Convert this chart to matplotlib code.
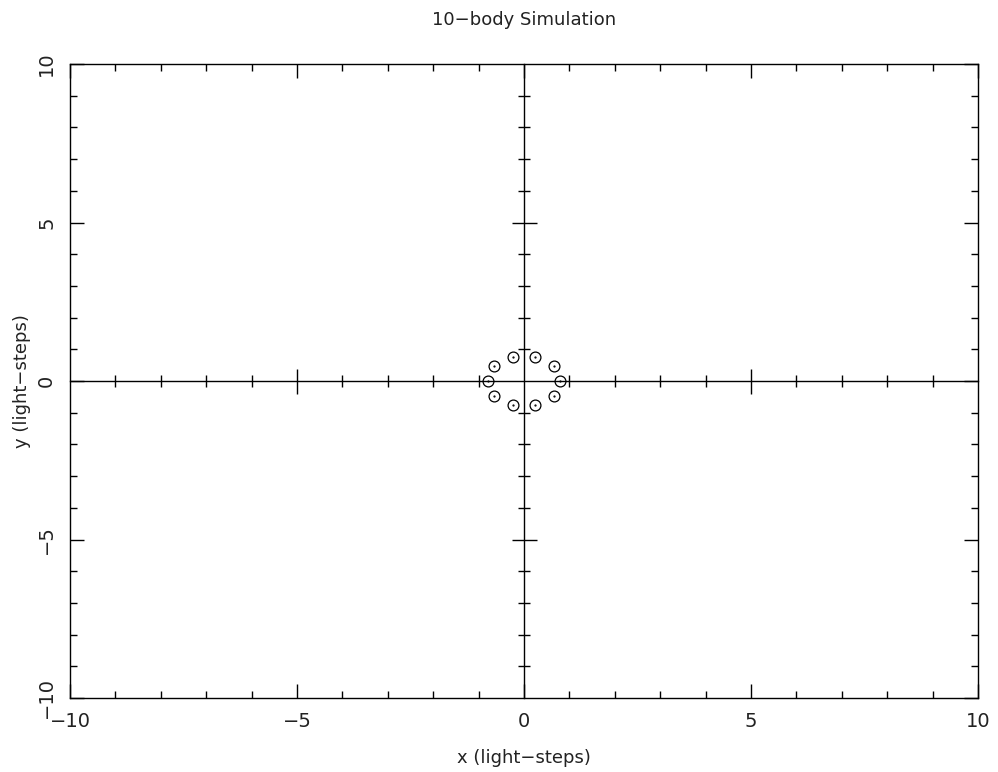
import matplotlib
matplotlib.use("Agg")
import matplotlib.pyplot as plt
from matplotlib.ticker import MultipleLocator

# Data: body positions (light-steps)
x_pos = [0.80, 0.65, 0.25, -0.25, -0.65, -0.80, -0.65, -0.25, 0.25, 0.65]
y_pos = [0.00, 0.47, 0.76, 0.76, 0.47, 0.00, -0.47, -0.76, -0.76, -0.47]

title = "10\u2212body Simulation"
xlabel = "x (light\u2212steps)"
ylabel = "y (light\u2212steps)"
major_ticks = [-10, -5, 0, 5, 10]
tick_labels = ["\u221210", "\u22125", "0", "5", "10"]

plt.rcParams['font.family'] = ['DejaVu Sans']

fig = plt.figure(figsize=(9.98, 7.72), dpi=100)
pos = [70/998, 1-698/772, 908/998, 634/772]
ax = fig.add_axes(pos)
ax.set_xlim(-10, 10)
ax.set_ylim(-10, 10)
for s in ax.spines.values():
    s.set_linewidth(1.0)
ax.set_xticks(major_ticks)
ax.set_xticklabels(tick_labels)
ax.set_yticks(major_ticks)
ax.set_yticklabels(tick_labels, rotation=90, va='center')
ax.xaxis.set_minor_locator(MultipleLocator(1))
ax.yaxis.set_minor_locator(MultipleLocator(1))
ax.tick_params(which='both', direction='in', top=True, right=True, width=1.0,
               labelsize=14, labelcolor='#222222')
ax.tick_params(which='major', length=10)
ax.tick_params(which='minor', length=5)
ax.tick_params(axis='x', which='major', pad=10)
ax.tick_params(axis='y', which='major', pad=10)

# overlay axes with spines through zero (independent, same limits)
ax2 = fig.add_axes(pos)
ax2.set_xlim(-10, 10)
ax2.set_ylim(-10, 10)
ax2.patch.set_visible(False)
ax2.spines['top'].set_visible(False)
ax2.spines['right'].set_visible(False)
ax2.spines['left'].set_position(('data', 0))
ax2.spines['bottom'].set_position(('data', 0))
ax2.spines['left'].set_linewidth(1.0)
ax2.spines['bottom'].set_linewidth(1.0)
ax2.tick_params(which='both', direction='inout', top=False, right=False,
                labelbottom=False, labelleft=False, width=1.0)
ax2.tick_params(which='major', length=18)
ax2.tick_params(which='minor', length=9)
ax2.set_xticks([t for t in major_ticks if t not in (0, -10, 10)])
ax2.set_yticks([t for t in major_ticks if t not in (0, -10, 10)])
ax2.set_xticks([t for t in range(-9, 10) if t % 5 != 0], minor=True)
ax2.set_yticks([t for t in range(-9, 10) if t % 5 != 0], minor=True)

ax2.plot(x_pos, y_pos, linestyle='none', marker='o', markersize=7.8,
         markerfacecolor='none', markeredgecolor='black', markeredgewidth=0.9)
ax2.plot(x_pos, y_pos, linestyle='none', marker='.', markersize=1.2, color='black')

fig.text(524/998, 1-20/772, title, ha='center', va='center', fontsize=13, color='#222222')
fig.text(524/998, 1-758/772, xlabel, ha='center', va='center', fontsize=13, color='#222222')
fig.text(22/998, 1-381/772, ylabel, ha='center', va='center', rotation=90, fontsize=13, color='#222222')

fig.savefig("out.png", dpi=100)
